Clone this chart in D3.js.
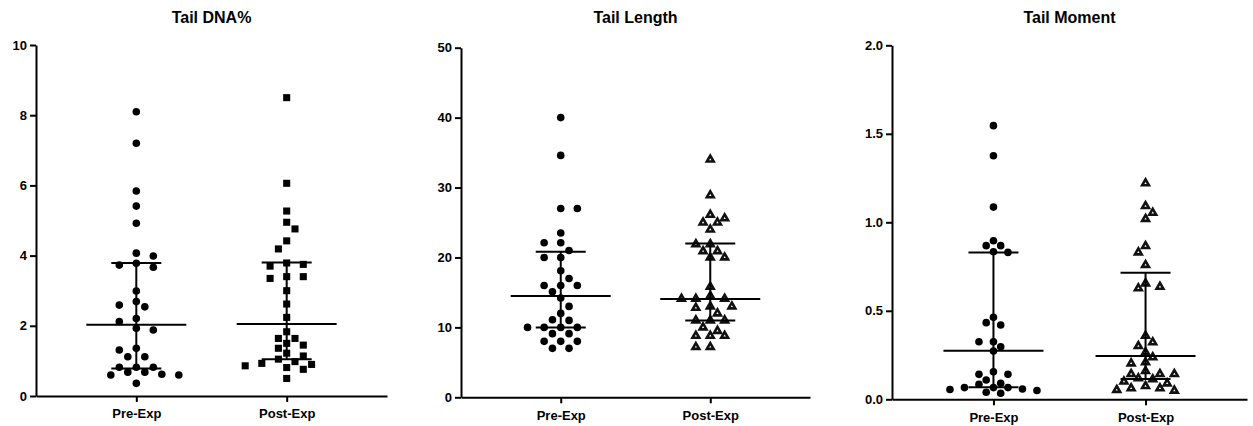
<!DOCTYPE html>
<html>
<head>
<meta charset="utf-8">
<script src="https://cdn.jsdelivr.net/npm/d3@7"></script>
<style>
  body { margin: 0; background: #fff; }
  svg { font-family: 'Liberation Sans', Arial, Helvetica, sans-serif; }
</style>
</head>
<body>
<script>
// groups on the x axis
const groups = ['Pre-Exp', 'Post-Exp'];
const titles = ['Tail DNA%', 'Tail Length', 'Tail Moment'];

// values
const dnaPre = [8.10, 7.20, 5.84, 5.41, 4.92, 4.07, 3.99, 3.78, 3.73, 3.67, 2.99, 2.69, 2.59, 2.54, 2.21, 2.12,
  1.93, 1.88, 1.36, 1.31, 1.12, 1.12, 0.82, 0.82, 0.82, 0.68, 0.62, 0.60, 0.60, 0.68, 0.36];
const dnaPost = [8.50, 6.06, 5.27, 4.95, 4.76, 4.42, 4.19, 3.79, 3.75, 3.70, 3.35, 3.40, 3.40, 3.00, 2.62, 2.24,
  1.83, 1.64, 1.64, 1.45, 1.50, 1.22, 1.36, 1.14, 1.05, 0.98, 0.90, 0.86, 0.81, 0.93, 0.76, 0.50];
const lenPre = [40.0, 34.6, 27.0, 27.0, 23.5, 22.1, 22.1, 21.0, 20.0, 20.0, 18.1, 17.0, 16.0, 16.0, 16.0, 15.1,
  14.2, 13.0, 12.0, 11.1, 11.0, 10.0, 10.0, 10.0, 10.0, 9.1, 9.1, 8.0, 8.0, 8.0, 7.0, 7.0];
const lenPost = [34.0, 28.9, 26.1, 25.6, 25.0, 25.0, 24.0, 21.9, 21.9, 20.9, 20.9, 20.0, 20.0, 15.8, 14.5, 14.1,
  14.1, 14.1, 12.8, 13.0, 13.0, 12.0, 11.0, 11.0, 11.0, 10.0, 9.5, 8.8, 8.8, 8.8, 7.2, 7.2];
const momPre = [1.546, 1.376, 1.086, 0.896, 0.868, 0.868, 0.834, 0.830, 0.463, 0.433, 0.420, 0.325, 0.325, 0.297,
  0.273, 0.156, 0.141, 0.141, 0.109, 0.090, 0.085, 0.066, 0.066, 0.058, 0.055, 0.050, 0.040, 0.066, 0.034];
const momPost = [1.220, 1.092, 1.054, 1.019, 0.866, 0.830, 0.759, 0.627, 0.636, 0.655, 0.359, 0.322, 0.301, 0.265,
  0.237, 0.209, 0.203, 0.160, 0.143, 0.143, 0.143, 0.119, 0.100, 0.090, 0.075, 0.062, 0.062, 0.113, 0.053, 0.049];

// median and interquartile range [median, q1, q3]
const dnaStats = [[2.03, 0.78, 3.79], [2.05, 1.05, 3.80]];
const lenStats = [[14.5, 10.0, 20.8], [14.05, 11.0, 22.0]];
const momStats = [[0.275, 0.068, 0.83], [0.245, 0.115, 0.715]];

// y axis ticks
const dnaTicks = [0, 2, 4, 6, 8, 10];
const lenTicks = [0, 10, 20, 30, 40, 50];
const momTicks = [0, 0.5, 1.0, 1.5, 2.0];

var svg = d3.select('body').append('svg')
  .attr('width', 1253)
  .attr('height', 426);

var panels = [
  { title: titles[0], data: [dnaPre, dnaPost], stats: dnaStats, ticks: dnaTicks, fmt: d3.format('d'),
    frame: { left: 36, right: 387, top: 45, bottom: 396 },
    marks: ['circle', 'square'], unit: [10, 8.3] },
  { title: titles[1], data: [lenPre, lenPost], stats: lenStats, ticks: lenTicks, fmt: d3.format('d'),
    frame: { left: 461, right: 810, top: 47.7, bottom: 397.3 },
    marks: ['circle', 'triangle'], unit: [8.3, 7.2] },
  { title: titles[2], data: [momPre, momPost], stats: momStats, ticks: momTicks, fmt: d3.format('.1f'),
    frame: { left: 892, right: 1247, top: 45.3, bottom: 399.3 },
    marks: ['circle', 'triangle'], unit: [10, 7.2] }
];

// simple beeswarm: offsets in steps of `unit`, keep points apart
function swarm(values, y, unit) {
  var minDist = unit * 1.15;
  var pts = values.map(function (v) { return { v: v, y: y(v), dx: 0 }; })
    .sort(function (a, b) { return b.v - a.v; });
  var placed = [];
  var flip = false;
  pts.forEach(function (p) {
    var free = function (dx) {
      return placed.every(function (q) {
        var a = q.dx - dx, b = q.y - p.y;
        return Math.sqrt(a * a + b * b) >= minDist;
      });
    };
    for (var k = 0; k < 60; k++) {
      var cands = k === 0 ? [0] : (flip ? [-k * unit, k * unit] : [k * unit, -k * unit]);
      var hit = cands.find(free);
      if (hit !== undefined) {
        p.dx = hit;
        if (k > 0) flip = !flip;
        break;
      }
    }
    placed.push(p);
  });
  return pts;
}

// shrink the step until the swarm fits in its column
function fitSwarm(values, y, unit, half) {
  var pts;
  for (var u = unit; u >= 4; u -= 0.25) {
    pts = swarm(values, y, u);
    if (d3.max(pts, function (d) { return Math.abs(d.dx); }) <= half) break;
  }
  return pts;
}

panels.forEach(function (pn) {
  var f = pn.frame;
  var y = d3.scaleLinear()
    .domain([pn.ticks[0], pn.ticks[pn.ticks.length - 1]])
    .range([f.bottom, f.top]);
  var x = d3.scalePoint()
    .domain(groups)
    .range([f.left, f.right])
    .padding(0.667);

  var g = svg.append('g');

  // axes
  var ya = g.append('g')
    .attr('transform', 'translate(' + f.left + ',0)')
    .call(d3.axisLeft(y).tickValues(pn.ticks).tickFormat(pn.fmt).tickSize(6).tickSizeOuter(0).tickPadding(3));
  var xa = g.append('g')
    .attr('transform', 'translate(0,' + f.bottom + ')')
    .call(d3.axisBottom(x).tickSize(6).tickSizeOuter(0).tickPadding(7));
  [ya, xa].forEach(function (a) {
    a.select('.domain').attr('stroke', '#000').attr('stroke-width', 2);
    a.selectAll('.tick line').attr('stroke', '#000').attr('stroke-width', 2);
    a.selectAll('.tick text')
      .attr('fill', '#000')
      .style('font-size', '13px')
      .style('font-weight', 'bold')
      .style('font-family', "'Liberation Sans', Arial, sans-serif");
  });

  // title
  g.append('text')
    .attr('x', (f.left + f.right) / 2)
    .attr('y', 23)
    .attr('text-anchor', 'middle')
    .style('font-size', '16px')
    .style('font-weight', 'bold')
    .text(pn.title);

  groups.forEach(function (grp, gi) {
    var cx = x(grp);
    var pts = fitSwarm(pn.data[gi], y, pn.unit[gi], 45);
    var kind = pn.marks[gi];
    var dots = g.append('g');
    if (kind === 'circle') {
      dots.selectAll('circle').data(pts).enter().append('circle')
        .attr('cx', function (d) { return cx + d.dx; })
        .attr('cy', function (d) { return d.y; })
        .attr('r', 3.8)
        .attr('fill', '#000');
    } else if (kind === 'square') {
      dots.selectAll('path').data(pts).enter().append('path')
        .attr('d', d3.symbol().type(d3.symbolSquare).size(50))
        .attr('transform', function (d) { return 'translate(' + (cx + d.dx) + ',' + d.y + ')'; })
        .attr('fill', '#000');
    } else {
      dots.selectAll('path').data(pts).enter().append('path')
        .attr('d', d3.symbol().type(d3.symbolTriangle).size(20))
        .attr('transform', function (d) { return 'translate(' + (cx + d.dx) + ',' + d.y + ')'; })
        .attr('fill', '#fff')
        .attr('stroke', '#111')
        .attr('stroke-width', 2.6);
    }

    // median with interquartile range
    var s = pn.stats[gi];
    var lines = [
      [cx - 50, y(s[0]), cx + 50, y(s[0])],
      [cx - 25, y(s[1]), cx + 25, y(s[1])],
      [cx - 25, y(s[2]), cx + 25, y(s[2])],
      [cx, y(s[1]), cx, y(s[2])]
    ];
    g.append('g').selectAll('line').data(lines).enter().append('line')
      .attr('x1', function (d) { return d[0]; })
      .attr('y1', function (d) { return d[1]; })
      .attr('x2', function (d) { return d[2]; })
      .attr('y2', function (d) { return d[3]; })
      .attr('stroke', '#000')
      .attr('stroke-width', 2);
  });
});
</script>
</body>
</html>
